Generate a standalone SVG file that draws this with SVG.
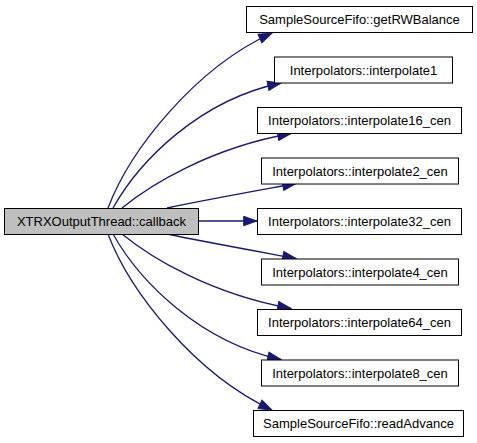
<svg xmlns="http://www.w3.org/2000/svg" width="477" height="443" viewBox="0 0 477 443">
<style>
.node rect{fill:#ffffff;stroke:#000000;stroke-width:1}
.node.main rect{fill:#bfbfbf}
.node text{font-family:"Liberation Sans",Arial,sans-serif;font-size:13px;fill:#000000;text-anchor:middle}
.edge{fill:none;stroke:#191970;stroke-width:1.3;marker-end:url(#arr)}
</style>
<defs>
<marker id="arr" markerUnits="userSpaceOnUse" markerWidth="16" markerHeight="12" refX="13.3" refY="4.7" orient="auto" overflow="visible">
<path d="M0,0 L13.3,4.7 L0,9.4 Z" fill="#191970" stroke="#191970" stroke-width="1"/>
</marker>
</defs>
<rect width="477" height="443" fill="#ffffff"/>
<g id="edges">
<path class="edge" d="M108,208 C130,150 195,68 272,33"/>
<path class="edge" d="M113,208 C140,160 200,100 281,83"/>
<path class="edge" d="M122,208 C150,185 210,148 291,133.5"/>
<path class="edge" d="M167,208 C200,201 250,192 296,183.5"/>
<path class="edge" d="M198,221 L257,221"/>
<path class="edge" d="M167,234 C200,241 250,250 296,258.5"/>
<path class="edge" d="M122,234 C150,257 210,294 291,308.5"/>
<path class="edge" d="M113,234 C140,282 200,342 281,359.5"/>
<path class="edge" d="M108,234 C130,292 195,374 272,410"/>
</g>
<g id="main" class="node main"><rect x="4.5" y="208.5" width="194" height="26"/><text x="101.5" y="226">XTRXOutputThread::callback</text></g>
<g id="n1" class="node"><rect x="246.5" y="6.5" width="226" height="26"/><text x="359.5" y="24">SampleSourceFifo::getRWBalance</text></g>
<g id="n2" class="node"><rect x="274.5" y="57" width="178" height="26"/><text x="363.5" y="74.5">Interpolators::interpolate1</text></g>
<g id="n3" class="node"><rect x="257.5" y="107.5" width="204" height="26"/><text x="359.5" y="125">Interpolators::interpolate16_cen</text></g>
<g id="n4" class="node"><rect x="261.5" y="158" width="197" height="26"/><text x="360" y="175.5">Interpolators::interpolate2_cen</text></g>
<g id="n5" class="node"><rect x="257.5" y="208.5" width="204" height="26"/><text x="359.5" y="226">Interpolators::interpolate32_cen</text></g>
<g id="n6" class="node"><rect x="261.5" y="259" width="197" height="26"/><text x="360" y="276.5">Interpolators::interpolate4_cen</text></g>
<g id="n7" class="node"><rect x="257.5" y="309.5" width="204" height="26"/><text x="359.5" y="327">Interpolators::interpolate64_cen</text></g>
<g id="n8" class="node"><rect x="261.5" y="360" width="197" height="26"/><text x="360" y="377.5">Interpolators::interpolate8_cen</text></g>
<g id="n9" class="node"><rect x="253.5" y="410.5" width="210" height="26"/><text x="358.5" y="428">SampleSourceFifo::readAdvance</text></g>
</svg>
